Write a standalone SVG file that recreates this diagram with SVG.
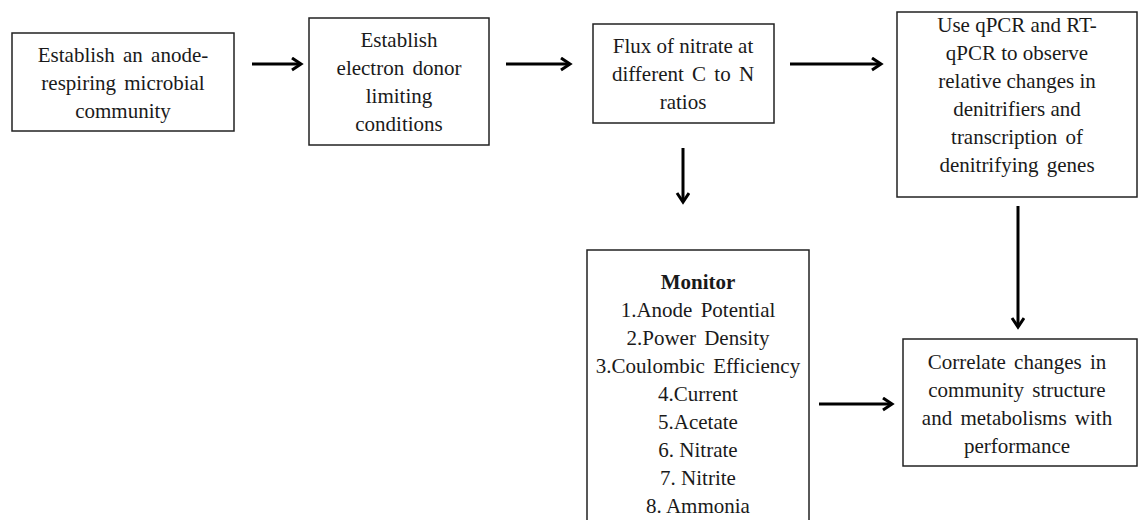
<svg xmlns="http://www.w3.org/2000/svg" width="1138" height="520" viewBox="0 0 1138 520">
<style>
.box{fill:#fff;stroke:#222;stroke-width:1.5}
.t{font-family:"Liberation Serif","Times New Roman",serif;font-size:21px;fill:#1a1a1a;text-anchor:middle}
.b{font-weight:bold}
.w{word-spacing:3px}
.c{stroke:#000;stroke-width:3;fill:none}
</style>
<defs>
<marker id="ah" markerUnits="userSpaceOnUse" markerWidth="16" markerHeight="16" refX="11" refY="7" orient="auto">
<path d="M2,1 L11,7 L2,13" fill="none" stroke="#000" stroke-width="3"/>
</marker>
</defs>
<rect width="1138" height="520" fill="#fff"/>
<g id="connectors">
<line class="c" x1="252" y1="64" x2="301" y2="64" marker-end="url(#ah)"/>
<line class="c" x1="506" y1="64" x2="570" y2="64" marker-end="url(#ah)"/>
<line class="c" x1="790" y1="64" x2="881" y2="64" marker-end="url(#ah)"/>
<line class="c" x1="683" y1="148" x2="683" y2="202" marker-end="url(#ah)"/>
<line class="c" x1="1018" y1="206" x2="1018" y2="327" marker-end="url(#ah)"/>
<line class="c" x1="819" y1="404" x2="892" y2="404" marker-end="url(#ah)"/>
</g>
<g id="n1">
<rect class="box" x="12" y="33" width="222" height="98"/>
<text class="t" x="123" y="62"><tspan x="123" dy="0" class="w">Establish an anode-</tspan><tspan x="123" dy="28" class="w">respiring microbial</tspan><tspan x="123" dy="28">community</tspan></text>
</g>
<g id="n2">
<rect class="box" x="309" y="18" width="180" height="127"/>
<text class="t" x="399" y="47"><tspan x="399" dy="0">Establish</tspan><tspan x="399" dy="28" class="w">electron donor</tspan><tspan x="399" dy="28">limiting</tspan><tspan x="399" dy="28">conditions</tspan></text>
</g>
<g id="n3">
<rect class="box" x="593" y="24" width="181" height="99"/>
<text class="t" x="683" y="53"><tspan x="683" dy="0">Flux of nitrate at</tspan><tspan x="683" dy="28" class="w">different C to N</tspan><tspan x="683" dy="28">ratios</tspan></text>
</g>
<g id="n4">
<rect class="box" x="897" y="12" width="240" height="185"/>
<text class="t" x="1017" y="32"><tspan x="1017" dy="0">Use qPCR and RT-</tspan><tspan x="1017" dy="28">qPCR to observe</tspan><tspan x="1017" dy="28">relative changes in</tspan><tspan x="1017" dy="28">denitrifiers and</tspan><tspan x="1017" dy="28" class="w">transcription of</tspan><tspan x="1017" dy="28" class="w">denitrifying genes</tspan></text>
</g>
<g id="n5">
<rect class="box" x="587" y="250" width="222" height="285"/>
<text class="t" x="698" y="289"><tspan x="698" dy="0" class="b">Monitor</tspan><tspan x="698" dy="28" class="w">1.Anode Potential</tspan><tspan x="698" dy="28" class="w">2.Power Density</tspan><tspan x="698" dy="28" class="w">3.Coulombic Efficiency</tspan><tspan x="698" dy="28">4.Current</tspan><tspan x="698" dy="28">5.Acetate</tspan><tspan x="698" dy="28">6. Nitrate</tspan><tspan x="698" dy="28">7. Nitrite</tspan><tspan x="698" dy="28">8. Ammonia</tspan></text>
</g>
<g id="n6">
<rect class="box" x="903" y="339" width="234" height="127"/>
<text class="t" x="1017" y="369"><tspan x="1017" dy="0" class="w">Correlate changes in</tspan><tspan x="1017" dy="28" class="w">community structure</tspan><tspan x="1017" dy="28" class="w">and metabolisms with</tspan><tspan x="1017" dy="28">performance</tspan></text>
</g>
</svg>
